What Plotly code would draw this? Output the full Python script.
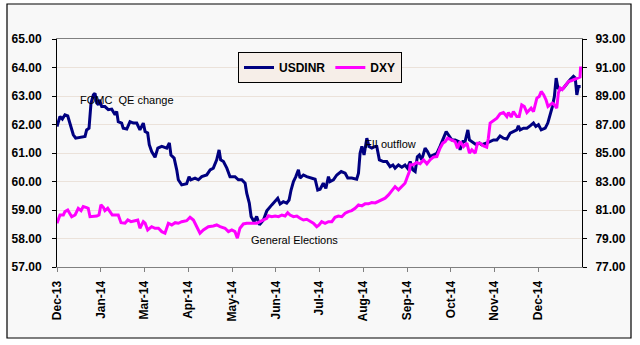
import plotly.graph_objects as go

# ---- data (trading-day index, value) ----
usd_day = [0, 1.5, 2.7, 4.0, 5.4, 6.5, 8.2, 9.4, 11.6, 14.1, 14.9, 16.1, 17.1, 18.3, 19.1, 20.0, 20.8, 21.3,
           22.5, 24.1, 25.8, 27.5, 29.2, 30.0, 30.8, 32.5, 33.3, 35.1, 36.7, 38.4, 40.1, 41.7, 43.4, 44.3,
           45.6, 46.4, 47.6, 49.3, 50.7, 52.7, 55.2, 56.5, 57.3, 58.9, 60.2, 61.0, 62.7, 65.2, 66.4, 67.3,
           69.4, 71.1, 72.8, 75.3, 77.0, 78.6, 80.3, 81.5, 82.3, 83.7, 85.4, 87.0, 89.5, 91.2, 92.9, 94.6,
           95.4, 96.7, 97.6, 99.1, 100.4, 101.8, 103.8, 105.5, 108.0, 109.7, 111.0, 112.2, 113.8, 115.5,
           116.7, 117.7, 118.9, 120.1, 121.4, 122.2, 123.9, 125.6, 128.1, 129.8, 131.1, 132.3, 133.9, 135.2,
           136.5, 137.3, 139.0, 140.7, 142.9, 144.9, 146.2, 148.2, 150.7, 151.6, 152.4, 153.3, 154.4, 155.8,
           156.9, 158.3, 160.0, 160.8, 162.1, 164.1, 165.8, 167.5, 168.9, 170.0, 171.7, 173.4, 175.0, 176.2,
           177.6, 178.9, 180.1, 181.2, 182.2, 183.4, 185.1, 186.3, 187.6, 189.3, 191.0, 192.6, 194.0, 195.7,
           196.8, 198.5, 200.2, 201.9, 202.7, 204.1, 205.2, 206.6, 207.4, 209.1, 210.8, 212.4, 213.6, 216.1,
           217.8, 219.5, 221.2, 222.8, 224.5, 226.2, 227.9, 229.5, 231.2, 232.0, 232.9, 234.6, 236.3, 237.9,
           239.6, 240.8, 242.1, 243.5, 245.5, 246.8, 248.0, 249.1, 250.1, 251.0, 251.9, 253.0, 254.7, 256.4,
           258.0, 259.7, 260.6, 261.4, 262.2, 263.3]
usdinr = [61.93, 62.28, 62.19, 62.34, 62.30, 62.05, 61.64, 61.52, 61.56, 61.58, 61.81, 61.87, 62.75, 63.04, 63.10,
          62.75, 62.69, 62.87, 62.63, 62.63, 62.52, 62.54, 62.34, 62.46, 62.10, 62.05, 61.87, 61.84, 62.10,
          62.05, 62.05, 61.81, 62.05, 61.75, 61.70, 61.29, 61.05, 60.85, 61.17, 61.23, 61.17, 61.35, 60.93,
          60.82, 60.41, 60.06, 59.88, 59.92, 60.17, 60.06, 60.12, 60.06, 60.17, 60.23, 60.41, 60.47, 60.76,
          61.11, 60.76, 60.70, 60.47, 60.17, 60.17, 60.06, 60.06, 59.94, 59.59, 59.24, 58.77, 58.59, 58.77,
          58.48, 58.65, 58.97, 59.18, 59.29, 59.41, 59.21, 59.29, 59.24, 59.35, 59.70, 60.00, 60.17, 60.41,
          60.12, 60.23, 60.17, 60.12, 60.08, 59.70, 59.73, 59.94, 59.76, 60.17, 60.00, 60.06, 60.23, 60.35,
          60.29, 60.12, 60.12, 60.08, 60.29, 60.99, 61.23, 60.93, 61.52, 61.23, 61.17, 61.23, 61.23, 60.76,
          60.70, 60.70, 60.52, 60.58, 60.47, 60.58, 60.50, 60.58, 60.47, 60.70, 60.41, 60.35, 60.87, 60.93,
          60.76, 61.17, 61.05, 60.87, 60.93, 60.99, 61.23, 61.46, 61.75, 61.64, 61.46, 61.46, 61.40, 61.11,
          61.40, 61.40, 61.81, 61.46, 61.37, 61.29, 61.35, 61.29, 61.35, 61.40, 61.46, 61.46, 61.60, 61.52,
          61.49, 61.70, 61.75, 61.81, 61.95, 61.81, 61.87, 61.87, 61.95, 62.05, 61.93, 61.99, 61.81, 61.87,
          62.05, 62.34, 62.63, 62.98, 63.63, 63.28, 63.22, 63.28, 63.45, 63.57, 63.69, 63.63, 63.04, 63.33,
          63.33]

dxy_day = [0, 1.5, 3.2, 4.0, 5.4, 6.5, 7.4, 9.1, 9.9, 10.7, 12.1, 13.2, 14.9, 15.7, 16.6, 18.3, 20.0, 21.1, 22.1,
           23.3, 24.1, 25.5, 26.7, 27.8, 29.5, 30.8, 32.2, 34.2, 35.6, 37.2, 39.2, 40.6, 41.7, 43.4, 44.3,
           45.6, 47.6, 49.3, 51.0, 52.7, 54.3, 56.0, 57.7, 59.4, 61.0, 62.7, 65.2, 66.9, 68.6, 70.3, 71.9,
           73.6, 76.1, 78.6, 80.3, 82.0, 84.5, 86.2, 87.9, 89.5, 90.7, 92.0, 93.7, 95.4, 97.9, 100.4, 102.1,
           103.8, 105.5, 106.3, 108.0, 109.7, 111.4, 113.1, 114.7, 116.0, 117.2, 118.9, 120.6, 122.2, 123.9,
           125.6, 127.3, 128.9, 130.6, 131.8, 133.1, 134.8, 136.5, 138.2, 139.8, 141.5, 143.2, 144.9, 146.5,
           148.2, 149.9, 151.6, 153.3, 154.9, 156.6, 158.3, 160.0, 162.5, 165.0, 166.7, 168.5, 170.0, 171.7,
           173.4, 175.0, 176.2, 177.2, 177.6, 179.2, 180.9, 182.6, 184.3, 186.0, 187.6, 189.3, 191.0, 192.6,
           194.0, 195.2, 196.4, 198.5, 200.2, 201.4, 202.7, 204.4, 206.1, 207.4, 208.6, 210.3, 211.4, 212.8,
           214.5, 216.1, 216.9, 217.8, 219.5, 221.2, 222.8, 224.5, 226.2, 227.0, 228.4, 229.5, 231.2, 232.4,
           233.7, 235.0, 236.3, 237.4, 238.4, 239.6, 241.3, 242.5, 243.5, 244.7, 245.9, 246.9, 248.0, 249.1,
           250.1, 251.3, 252.1, 253.0, 254.1, 255.5, 257.2, 258.9, 260.6, 262.0, 263.0, 263.3]
dxy = [80.07, 80.65, 80.65, 80.89, 81.00, 80.77, 80.53, 80.65, 80.89, 81.12, 80.96, 81.24, 81.17, 81.12, 80.53,
       80.53, 80.58, 80.65, 81.36, 81.19, 80.96, 81.12, 80.89, 80.65, 80.65, 80.65, 80.11, 80.07, 80.30, 80.18,
       80.25, 80.30, 79.72, 80.18, 80.07, 79.60, 79.83, 79.72, 79.72, 79.48, 79.37, 80.07, 79.95, 80.11, 80.07,
       80.18, 80.25, 80.49, 80.30, 79.83, 79.37, 79.60, 79.83, 79.88, 79.95, 79.83, 79.72, 79.48, 79.60, 79.48,
       79.02, 79.72, 80.02, 80.07, 80.07, 80.07, 80.18, 80.30, 80.42, 80.60, 80.53, 80.58, 80.53, 80.65, 80.58,
       80.81, 80.65, 80.53, 80.58, 80.42, 80.30, 80.35, 80.18, 80.07, 79.83, 79.95, 80.18, 80.07, 80.18, 80.18,
       80.49, 80.58, 80.53, 80.77, 80.89, 80.96, 81.12, 81.36, 81.29, 81.43, 81.43, 81.52, 81.50, 81.66, 81.83,
       82.06, 82.41, 82.64, 82.41, 82.64, 82.88, 83.34, 83.70, 84.17, 84.17, 84.33, 84.24, 84.52, 84.24, 84.52,
       84.71, 84.75, 85.34, 85.69, 85.80, 86.04, 85.92, 85.80, 85.34, 85.80, 85.45, 85.69, 84.99, 85.22, 84.99,
       85.69, 85.69, 85.50, 85.41, 86.04, 87.10, 87.28, 87.45, 87.75, 87.84, 87.56, 87.84, 87.52, 87.91, 87.56,
       87.56, 88.38, 88.26, 87.84, 88.03, 88.15, 87.91, 88.85, 88.97, 89.32, 89.09, 88.73, 88.26, 88.38, 88.50,
       88.38, 88.15, 89.21, 89.56, 89.44, 89.67, 90.02, 90.09, 90.19, 90.26, 90.33, 91.07]

tick_pos = [0, 22, 44, 66, 88, 110, 132, 154, 176, 198, 220, 242]
tick_labels = ["Dec-13", "Jan-14", "Mar-14", "Apr-14", "May-14", "Jun-14",
               "Jul-14", "Aug-14", "Sep-14", "Oct-14", "Nov-14", "Dec-14"]

notes = ["FOMC  QE change", "FII outflow", "General Elections"]
note_day = [35.0, 167.8, 119.2]
note_val = [62.87, 61.32, 57.95]

PLOT_BG = "#f6eee8"
PAPER_IN = "#f8f8f8"
bold12 = dict(family="Liberation Sans, Arial, sans-serif", size=12, color="#000000", weight="bold")

fig = go.Figure()
fig.add_trace(go.Scatter(x=usd_day, y=usdinr, name="USDINR", mode="lines",
                         line=dict(color="#000080", width=3), yaxis="y"))
fig.add_trace(go.Scatter(x=dxy_day, y=dxy, name="DXY", mode="lines",
                         line=dict(color="#ff00ff", width=3), yaxis="y2"))

for t, xd, yv in zip(notes, note_day, note_val):
    fig.add_annotation(x=xd, y=yv, xref="x", yref="y", text=t, showarrow=False,
                       font=dict(family="Liberation Sans, Arial, sans-serif", size=11, color="#000000"))

L, R, T, B = 57, 58, 39, 78
W, H = 640, 345
pw, ph = W - L - R, H - T - B
fig.add_shape(type="rect", xref="paper", yref="paper", layer="below",
              x0=(7 - L) / pw, x1=(631 - L) / pw, y0=(H - B - 338) / ph, y1=(H - B - 4) / ph,
              line=dict(color="#000000", width=1.2), fillcolor=PAPER_IN)

fig.update_layout(
    width=W, height=H,
    margin=dict(l=L, r=R, t=T, b=B, pad=0),
    paper_bgcolor="#ffffff",
    plot_bgcolor=PLOT_BG,
    showlegend=True,
    legend=dict(orientation="h", x=(238 - L) / pw, y=(H - B - 52) / ph, xanchor="left", yanchor="top",
                bgcolor=PLOT_BG, bordercolor="#000000", borderwidth=1, font=bold12,
                itemwidth=30, tracegroupgap=0),
    xaxis=dict(range=[0, 264], tickmode="array", tickvals=tick_pos, ticktext=tick_labels,
               tickangle=-90, tickfont=bold12, showgrid=False, zeroline=False,
               showline=True, linecolor="#808080", linewidth=1, mirror=True,
               ticks="outside", ticklen=4, tickcolor="#808080", ticklabelstandoff=4),
    yaxis=dict(range=[57, 65], dtick=1, tick0=57, tickformat=".2f", tickfont=bold12,
               showgrid=True, gridcolor="#ebe2da", gridwidth=1, zeroline=False,
               showline=True, linecolor="#000000", linewidth=1,
               ticks="outside", ticklen=4, tickcolor="#000000", ticklabelstandoff=8),
    yaxis2=dict(range=[77, 93], dtick=2, tick0=77, tickformat=".2f", tickfont=bold12,
                overlaying="y", side="right", showgrid=False, zeroline=False,
                showline=True, linecolor="#000000", linewidth=1,
                ticks="outside", ticklen=4, tickcolor="#000000", ticklabelstandoff=6),
)

fig.write_html("out.html")
